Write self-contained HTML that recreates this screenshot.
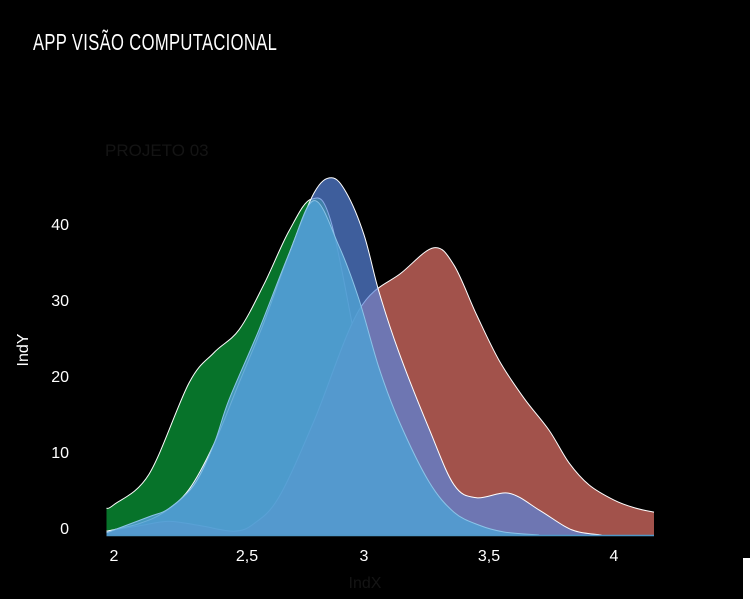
<!DOCTYPE html>
<html><head><meta charset="utf-8"><style>
html,body{margin:0;padding:0;background:#000;}
#wrap{position:relative;width:750px;height:599px;overflow:hidden;background:#000;font-family:"Liberation Sans",sans-serif;}
#title{position:absolute;left:33px;top:29px;color:#fff;font-size:23px;transform:scaleX(0.72);transform-origin:left top;white-space:nowrap;letter-spacing:0.5px;}
</style></head><body>
<div id="wrap">
<div id="title">APP VISÃO COMPUTACIONAL</div>
<svg id="chart" width="750" height="599" style="position:absolute;left:0;top:0">
<text x="105" y="156" fill="#141414" font-size="17" font-family="Liberation Sans">PROJETO 03</text>
<text x="365" y="588" fill="#141414" font-size="16" text-anchor="middle" font-family="Liberation Sans">IndX</text>
<text transform="translate(28,350) rotate(-90)" fill="#fff" font-size="16" text-anchor="middle" font-family="Liberation Sans">IndY</text>
<rect x="743" y="558" width="7" height="41" fill="#fff"/>
<g id="areas"></g><g id="axes"></g>
</svg>
</div>
<script>
const xTicks=[2,2.5,3,3.5,4];
const xTickLabels=["2","2,5","3","3,5","4"];
const yTicks=[0,10,20,30,40];
const yTickLabels=["0","10","20","30","40"];
const greenX=[1.97,2.0,2.14,2.3,2.4,2.5,2.6,2.7,2.79,2.87,3.0,3.1,3.2,3.3,3.4];
const greenY=[3.5,4,8,20,24,27,33,40,44.2,41,20,8,2,0.5,0];
const redX=[1.97,2.1,2.22,2.35,2.48,2.56,2.66,2.8,2.98,3.15,3.28,3.36,3.45,3.54,3.64,3.74,3.82,3.9,4.0,4.08,4.16];
const redY=[0.5,1.2,1.8,1.2,0.5,1.5,5,15,29.6,34.5,37.8,35.5,29,23,18,13.8,9.5,6.6,4.6,3.6,3];
const blueX=[1.97,2.1,2.2,2.3,2.4,2.5,2.6,2.7,2.8,2.87,2.93,3.0,3.06,3.14,3.26,3.36,3.45,3.58,3.7,3.8,3.86,3.95];
const blueY=[0.5,1.5,3,6,12,20,28,37,45,47,45,39.5,32,24,14,6.6,4.9,5.5,3.3,1.2,0.4,0];
const cyanX=[1.97,2.14,2.22,2.32,2.4,2.46,2.58,2.7,2.8,2.9,2.98,3.06,3.14,3.26,3.36,3.46,3.56,3.7];
const cyanY=[0.3,2.4,3.5,6.6,12,17.8,27,37,44,38,31,22,15,7,3,1.3,0.4,0];

const X0=1.97,X1=4.16;
function xs(v){return 114+(v-2)*250;}
function ys(v){return 535-v*7.6;}
const NS="http://www.w3.org/2000/svg";
function pathFor(xa,ya){
  const p=xa.map((x,i)=>[xs(x),ys(ya[i])]);
  let d="M"+xs(xa[0])+","+ys(0)+" L"+p[0][0]+","+p[0][1];
  let line="M"+p[0][0]+","+p[0][1];
  let seg="";
  for(let i=0;i<p.length-1;i++){
    const p0=p[Math.max(0,i-1)],p1=p[i],p2=p[i+1],p3=p[Math.min(p.length-1,i+2)];
    const c1x=p1[0]+(p2[0]-p0[0])/6,c1y=Math.min(ys(0),p1[1]+(p2[1]-p0[1])/6);
    const c2x=p2[0]-(p3[0]-p1[0])/6,c2y=Math.min(ys(0),p2[1]-(p3[1]-p1[1])/6);
    seg+=" C"+c1x+","+c1y+" "+c2x+","+c2y+" "+p2[0]+","+p2[1];
  }
  d+=seg+" L"+p[p.length-1][0]+","+ys(0)+" Z";
  line+=seg;
  return [d,line];
}
const g=document.getElementById('areas');
const series=[
 ["area-green",greenX,greenY,"#07732a","#ffffff"],
 ["area-red",redX,redY,"#a2524b","#ffffff"],
 ["area-blue",blueX,blueY,"rgba(88,134,222,0.7)","#ffffff"],
 ["area-cyan",cyanX,cyanY,"rgba(80,160,210,0.85)","#8cc4e8"]
];
series.forEach(s=>{
  const [d,l]=pathFor(s[1],s[2]);
  const a=document.createElementNS(NS,'path');
  a.setAttribute('d',d);a.setAttribute('fill',s[3]);
  
  
  g.appendChild(a);
  const ln=document.createElementNS(NS,'path');
  ln.setAttribute('d',l);ln.setAttribute('fill','none');ln.setAttribute('stroke',s[4]);ln.setAttribute('stroke-width','1');
  
  
  g.appendChild(ln);
});
const ax=document.getElementById('axes');
const base=document.createElementNS(NS,'line');
base.setAttribute('x1',xs(X0));base.setAttribute('x2',xs(X1));base.setAttribute('y1',ys(0)+0.5);base.setAttribute('y2',ys(0)+0.5);
base.setAttribute('stroke','#4f98c8');base.setAttribute('stroke-width','1.5');


ax.appendChild(base);
xTicks.forEach((v,i)=>{
  const t=document.createElementNS(NS,'text');
  t.setAttribute('x',xs(v)+(v===2.5?8:0));t.setAttribute('y',561);
  t.setAttribute('fill','#fff');t.setAttribute('font-size','16');t.setAttribute('text-anchor','middle');
  t.setAttribute('font-family','Liberation Sans');
  t.textContent=xTickLabels[i];
  
  
  ax.appendChild(t);
});
yTicks.forEach((v,i)=>{
  const t=document.createElementNS(NS,'text');
  t.setAttribute('x',69);t.setAttribute('y',ys(v)-1);
  t.setAttribute('fill','#fff');t.setAttribute('font-size','16');t.setAttribute('text-anchor','end');
  t.setAttribute('font-family','Liberation Sans');
  t.textContent=yTickLabels[i];
  
  
  ax.appendChild(t);
});
</script>
</body></html>
